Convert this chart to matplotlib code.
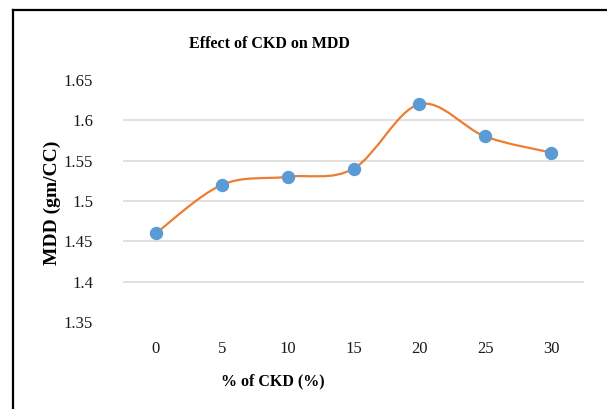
import numpy as np
import matplotlib
matplotlib.use('Agg')
import matplotlib.pyplot as plt
from matplotlib.path import Path
from matplotlib.patches import PathPatch
from matplotlib.lines import Line2D

# data
ckd = ['0', '5', '10', '15', '20', '25', '30']
mdd = [1.46, 1.52, 1.53, 1.54, 1.62, 1.58, 1.56]
yticks = [1.35, 1.4, 1.45, 1.5, 1.55, 1.6, 1.65]

plt.rcParams['font.family'] = ['Liberation Serif', 'DejaVu Serif']

fig = plt.figure(figsize=(6.07, 4.09), dpi=100)
ax = fig.add_axes([123/607, 1-322/409, 461/607, 242/409])

x = np.arange(len(ckd))
y = np.array(mdd)

# Excel-like smoothed line (Catmull-Rom -> cubic bezier)
verts = [(x[0], y[0])]
codes = [Path.MOVETO]
n = len(x)
for i in range(n-1):
    p0 = np.array([x[max(i-1, 0)], y[max(i-1, 0)]])
    p1 = np.array([x[i], y[i]])
    p2 = np.array([x[i+1], y[i+1]])
    p3 = np.array([x[min(i+2, n-1)], y[min(i+2, n-1)]])
    c1 = p1 + (p2 - p0) / 6
    c2 = p2 - (p3 - p1) / 6
    verts += [tuple(c1), tuple(c2), tuple(p2)]
    codes += [Path.CURVE4] * 3
ax.add_patch(PathPatch(Path(verts, codes), fill=False, edgecolor='#ED7D31', lw=1.6, zorder=3))
ax.plot(x, y, 'o', color='#5B9BD5', markersize=8.6, zorder=4)

ax.set_xlim(-0.5, n-0.5)
ax.set_ylim(1.35, 1.65)
ax.set_xticks(x)
ax.set_xticklabels(ckd)
ax.set_yticks(yticks)
ax.set_yticklabels(['1.35', '1.4', '1.45', '1.5', '1.55', '1.6', '1.65'])
for v in yticks[1:-1]:
    ax.axhline(v, color='#D9D9D9', lw=1.1, zorder=1)
for s in ax.spines.values():
    s.set_visible(False)
ax.tick_params(length=0, labelsize=12, colors='#1a1a1a')
ax.tick_params(axis='y', pad=21.5)
ax.tick_params(axis='x', pad=14)

fig.text(269/607, 1-44/409, 'Effect of CKD on MDD', ha='center', va='center',
         fontsize=11.5, fontweight='bold')
fig.text(273/607, 1-381/409, '% of CKD (%)', ha='center', va='center',
         fontsize=11.5, fontweight='bold')
fig.text(52/607, 1-203/409, 'MDD (gm/CC)', ha='center', va='center',
         rotation=90, fontsize=14, fontweight='bold')

# chart border (left and top visible)
fig.add_artist(Line2D([13/607, 13/607], [0, 1-10/409], color='black', lw=1.6))
fig.add_artist(Line2D([13/607, 1], [1-10/409, 1-10/409], color='black', lw=1.6))

fig.savefig('out.png', dpi=100)
